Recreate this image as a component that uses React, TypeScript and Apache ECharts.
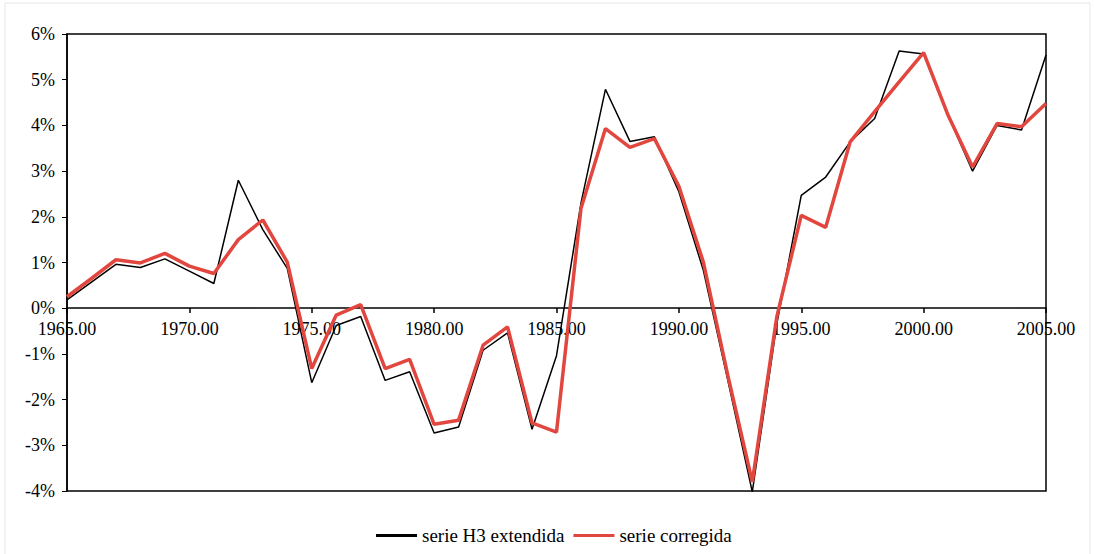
import React, { useEffect, useRef } from "react";
import * as echarts from "echarts";

const years = [
  1965, 1966, 1967, 1968, 1969, 1970, 1971, 1972, 1973, 1974,
  1975, 1976, 1977, 1978, 1979, 1980, 1981, 1982, 1983, 1984,
  1985, 1986, 1987, 1988, 1989, 1990, 1991, 1992, 1993, 1994,
  1995, 1996, 1997, 1998, 1999, 2000, 2001, 2002, 2003, 2004, 2005,
];

const serieH3 = [
  0.18, 0.57, 0.96, 0.89, 1.08, 0.81, 0.54, 2.8, 1.72, 0.87,
  -1.63, -0.38, -0.18, -1.58, -1.39, -2.73, -2.6, -0.92, -0.54, -2.65,
  -1.04, 2.3, 4.79, 3.65, 3.75, 2.55, 0.83, -1.58, -4.02, -0.35,
  2.47, 2.87, 3.64, 4.15, 5.63, 5.56, 4.22, 3.0, 4.0, 3.9, 5.54,
];

const serieCorregida = [
  0.25, 0.65, 1.06, 0.99, 1.2, 0.92, 0.76, 1.5, 1.93, 1.01,
  -1.32, -0.15, 0.08, -1.32, -1.12, -2.54, -2.45, -0.81, -0.41, -2.51,
  -2.71, 2.18, 3.93, 3.52, 3.71, 2.67, 1.01, -1.47, -3.8, -0.19,
  2.03, 1.77, 3.64, 4.3, 4.95, 5.59, 4.22, 3.09, 4.04, 3.97, 4.48,
];

const seriesNames = ["serie H3 extendida", "serie corregida"];

const FONT = "Liberation Serif";

export default function App() {
  const ref = useRef<HTMLDivElement>(null);

  useEffect(() => {
    document.body.style.margin = "0";
    if (!ref.current) return;
    const chart = echarts.init(ref.current, undefined, { renderer: "svg" });
    chart.setOption({
      animation: false,
      backgroundColor: "#fff",
      textStyle: { fontFamily: FONT },
      graphic: [
        {
          type: "rect",
          shape: { x: 5, y: 3, width: 1085, height: 560 },
          style: { fill: "none", stroke: "#e6e6e6", lineWidth: 1 },
          silent: true,
          z: -10,
        },
      ],
      grid: {
        left: 67,
        right: 49,
        top: 34,
        bottom: 63,
        show: true,
        borderColor: "#000",
        borderWidth: 1.5,
        backgroundColor: "transparent",
      },
      legend: {
        bottom: 4,
        left: 371,
        itemWidth: 41,
        itemHeight: 3,
        itemGap: 9,
        textStyle: { fontFamily: FONT, fontSize: 19, color: "#000" },
        data: [
          { name: seriesNames[0], icon: "rect", itemStyle: { color: "#000" } },
          { name: seriesNames[1], icon: "rect", itemStyle: { color: "#e2473f" } },
        ],
      },
      xAxis: {
        type: "value",
        min: 1965,
        max: 2005,
        interval: 5,
        offset: -183,
        axisLine: { show: true, onZero: false, lineStyle: { color: "#000", width: 1.5 } },
        axisTick: { show: true, inside: false, length: 5, lineStyle: { color: "#000", width: 1.5 } },
        axisLabel: {
          formatter: (v: number) => v.toFixed(2),
          fontFamily: FONT,
          fontSize: 18,
          color: "#000",
          margin: 12,
          showMinLabel: true,
          showMaxLabel: true,
        },
        splitLine: { show: false },
      },
      yAxis: {
        type: "value",
        min: -4,
        max: 6,
        interval: 1,
        axisLine: { show: true, lineStyle: { color: "#000", width: 1.5 } },
        axisTick: { show: true, inside: false, length: 5, lineStyle: { color: "#000", width: 1 } },
        axisLabel: {
          formatter: (v: number) => `${v}%`,
          fontFamily: FONT,
          fontSize: 18,
          color: "#000",
          margin: 12,
        },
        splitLine: { show: false },
      },
      series: [
        {
          name: seriesNames[0],
          type: "line",
          data: years.map((y, i) => [y, serieH3[i]]),
          symbol: "none",
          lineStyle: { color: "#000", width: 1.5 },
          itemStyle: { color: "#000" },
          z: 2,
        },
        {
          name: seriesNames[1],
          type: "line",
          data: years.map((y, i) => [y, serieCorregida[i]]),
          symbol: "none",
          lineStyle: { color: "#e2473f", width: 3.5 },
          itemStyle: { color: "#e2473f" },
          z: 3,
        },
      ],
    });
    return () => chart.dispose();
  }, []);

  return <div ref={ref} style={{ width: 1095, height: 554 }} />;
}
